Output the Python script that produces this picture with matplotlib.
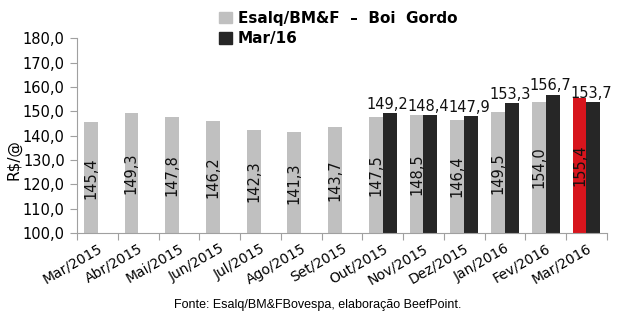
import numpy as np
import matplotlib
matplotlib.use('agg')
import matplotlib.pyplot as plt
from matplotlib.patches import Patch

months = ['Mar/2015', 'Abr/2015', 'Mai/2015', 'Jun/2015', 'Jul/2015', 'Ago/2015',
          'Set/2015', 'Out/2015', 'Nov/2015', 'Dez/2015', 'Jan/2016', 'Fev/2016',
          'Mar/2016']
esalq = [145.4, 149.3, 147.8, 146.2, 142.3, 141.3, 143.7, 147.5, 148.5, 146.4,
         149.5, 154.0, 155.4]
mar16 = [None, None, None, None, None, None, None, 149.2, 148.4, 147.9, 153.3,
         156.7, 153.7]
yticks = [100, 110, 120, 130, 140, 150, 160, 170, 180]

GRAY = '#c0c0c0'
DARK = '#262626'
RED = '#d7151d'


def fmt(v):
    return ('%.1f' % v).replace('.', ',')


fig = plt.figure(figsize=(6.23, 3.26), dpi=100)
ax = fig.add_axes([0.124, 0.285, 0.850, 0.598])

x = np.arange(len(months))
w = 0.34
colors = [GRAY] * (len(months) - 1) + [RED]
ax.bar(x - w / 2, [v - 100 for v in esalq], w, bottom=100, color=colors, linewidth=0)
for i, v in enumerate(esalq):
    ax.text(x[i] - w / 2, (100 + v) / 2, fmt(v), rotation=90, ha='center',
            va='center', fontsize=10.5, color='#111111')

for i, v in enumerate(mar16):
    if v is None:
        continue
    ax.bar(x[i] + w / 2, v - 100, w, bottom=100, color=DARK, linewidth=0)
    ax.text(x[i] + w / 2 - 0.05, v + 0.6, fmt(v), ha='center', va='bottom',
            fontsize=10.5, color='#111111')

ax.set_xlim(-0.5, len(months) - 0.5)
ax.set_ylim(100, 180)
ax.set_yticks(yticks)
ax.set_yticklabels([fmt(t) for t in yticks], fontsize=10.5)
ax.set_xticks(np.arange(len(months) + 1) - 0.5, minor=False)
ax.set_xticklabels([])
ax.set_xticks(x, minor=True)
ax.set_xticklabels(months, minor=True, rotation=30, ha='right', fontsize=10,
                   rotation_mode='anchor')
ax.tick_params(axis='x', which='minor', length=0, pad=6)
ax.tick_params(axis='x', which='major', length=5, color='#a0a0a0')
ax.tick_params(axis='y', length=5, color='#a0a0a0', pad=4)

for s in ['top', 'right']:
    ax.spines[s].set_visible(False)
ax.spines['left'].set_color('#a0a0a0')
ax.spines['bottom'].set_color('#a0a0a0')

fig.text(0.022, 0.51, 'R$/@', rotation=90, ha='center', va='center', fontsize=11)

handles = [Patch(color=GRAY), Patch(color=DARK)]
fig.legend(handles, ['Esalq/BM&F  \u2013  Boi  Gordo', 'Mar/16'], loc='upper left',
           bbox_to_anchor=(0.335, 1.0), frameon=False,
           prop={'weight': 'bold', 'size': 11}, handlelength=0.8,
           handleheight=0.8, handletextpad=0.4, labelspacing=0.35,
           borderaxespad=0.3)

fig.text(0.51, 0.064, 'Fonte: Esalq/BM&FBovespa, elaboração BeefPoint.',
         ha='center', va='center', fontsize=9, family='Liberation Sans')

fig.savefig('out.png', dpi=100)
